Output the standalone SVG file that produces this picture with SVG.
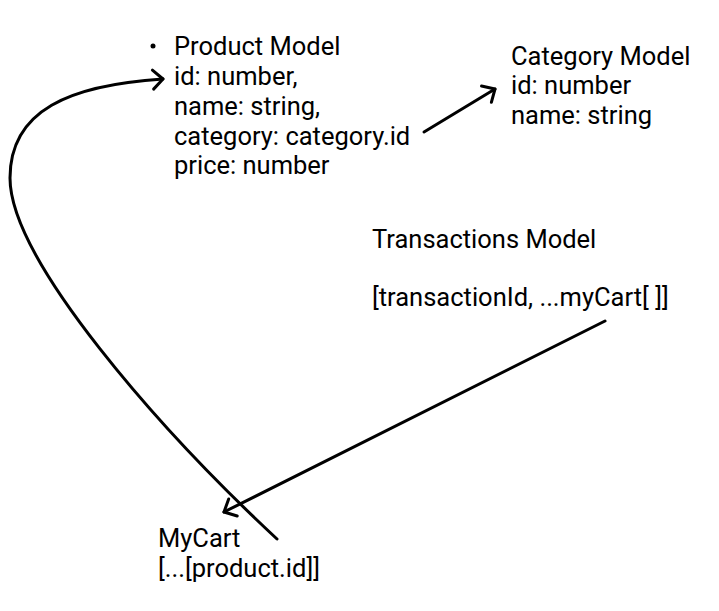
<svg xmlns="http://www.w3.org/2000/svg" width="719" height="611" viewBox="0 0 719 611">
<style>
text{font-family:Roboto,"Liberation Sans",sans-serif;font-size:25.5px;fill:#000}
.c{fill:none;stroke:#000;stroke-width:3;stroke-linecap:round;stroke-linejoin:round}
</style>
<defs>
<marker id="ah" markerUnits="userSpaceOnUse" viewBox="-14 -12 16 24" markerWidth="16" markerHeight="24" refX="0" refY="0" orient="auto" overflow="visible">
<path d="M-10,-9.5 L0,0 L-10,9.5" fill="none" stroke="#000" stroke-width="3" stroke-linecap="round" stroke-linejoin="round"/>
</marker>
</defs>
<rect width="719" height="611" fill="#fff"/>
<g id="product">
<circle cx="153" cy="46" r="2.5" fill="#000"/>
<text x="174" y="55">Product Model</text>
<text x="174" y="85">id: number,</text>
<text x="174" y="115">name: string,</text>
<text x="174" y="145">category: category.id</text>
<text x="174" y="174">price: number</text>
</g>
<g id="category">
<text x="511" y="65">Category Model</text>
<text x="511" y="94">id: number</text>
<text x="511" y="124">name: string</text>
</g>
<g id="transactions">
<text x="372" y="248">Transactions Model</text>
<text x="372" y="306">[transactionId, ...myCart[ ]]</text>
</g>
<g id="mycart">
<text x="158" y="547">MyCart</text>
<text x="158" y="577">[...[product.id]]</text>
</g>
<g id="connectors">
<path class="c" d="M424,132 L495,89" marker-end="url(#ah)"/>
<path class="c" d="M277,539 C160,430 10,260 10,178 C10,110 70,85 163,79" marker-end="url(#ah)"/>
<path class="c" d="M605,321 L224,512" marker-end="url(#ah)"/>
</g>
</svg>
